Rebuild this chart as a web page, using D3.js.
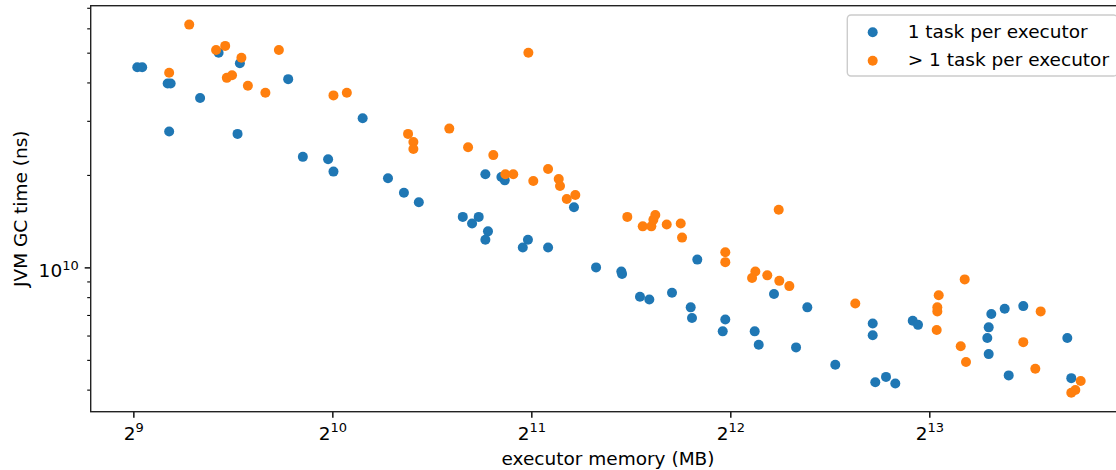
<!DOCTYPE html>
<html>
<head>
<meta charset="utf-8">
<script src="https://d3js.org/d3.v7.min.js"></script>
<style>
body { margin: 0; background: #fff; }
text { font-family: 'DejaVu Sans', sans-serif; fill: #000; }
</style>
</head>
<body>
<svg id="drawing_region"></svg>
<script>
// values: executor memory in MB, JVM GC time in units of 1e9 ns
const single_memory = [519, 528, 577, 583, 646, 580, 689, 742, 736, 878,
    924, 1009, 1028, 1138, 1243, 1314, 1384, 1745, 1845, 1867,
    1613, 1666, 1705, 1761, 1745, 2024, 1988, 2171, 2376, 2566,
    2802, 2809, 2990, 3089, 3343, 3651, 3568, 3584, 4025, 3989,
    4459, 4522, 4769, 5150, 5356, 5904, 6726, 6726, 6787, 7045,
    7277, 7732, 7876, 10167, 10652, 11365, 10075, 10026, 10075, 10802,
    13248, 13433];
const single_gc = [44.8, 44.8, 39.7, 39.7, 35.6, 27.7, 50.0, 46.2, 27.2, 41.0,
    22.9, 22.5, 20.5, 30.6, 19.5, 17.5, 16.3, 20.1, 19.7, 19.2,
    14.6, 13.9, 14.6, 13.1, 12.3, 12.3, 11.6, 11.6, 15.7, 10.0,
    9.69, 9.51, 8.02, 7.86, 8.27, 10.6, 7.41, 6.84, 6.77, 6.19,
    6.19, 5.60, 8.19, 5.49, 7.41, 4.82, 6.57, 6.01, 4.23, 4.40,
    4.19, 6.70, 6.50, 7.05, 7.33, 7.48, 6.38, 5.89, 5.22, 4.45,
    5.89, 4.36];

const multi_memory = [622, 580, 683, 705, 746, 709, 722, 763, 811, 850,
    1028, 1077, 2027, 1333, 1358, 1358, 1539, 1643, 1794, 1871,
    1923, 2062, 2171, 2253, 2263, 2317, 2387, 2861, 3019, 3111,
    3133, 3154, 3282, 3446, 3462, 4848, 4025, 4025, 4469, 4418,
    4659, 4858, 5031, 6330, 8465, 8424, 8424, 8406, 9267, 9139,
    9309, 12075, 11365, 11851, 13880, 13624, 13433];
const multi_gc = [61.7, 43.0, 51.0, 52.6, 48.1, 41.4, 42.2, 39.0, 37.0, 51.0,
    36.3, 37.0, 50.0, 27.2, 25.6, 24.3, 28.3, 24.6, 23.2, 20.1,
    20.1, 19.1, 20.9, 19.4, 18.4, 16.7, 17.2, 14.6, 13.6, 13.6,
    14.3, 14.8, 13.8, 13.9, 12.5, 15.4, 11.2, 10.4, 9.70, 9.23,
    9.42, 9.04, 8.69, 7.63, 8.11, 7.41, 7.19, 6.25, 9.14, 5.54,
    4.92, 7.19, 5.71, 4.68, 4.27, 3.99, 3.91];

const x_tick_exponents = [9, 10, 11, 12, 13];
const y_tick_exponents = [10];
const y_minor_ticks = [4e9, 5e9, 6e9, 7e9, 8e9, 9e9, 2e10, 3e10, 4e10, 5e10, 6e10, 7e10];
const series_labels = ['1 task per executor', '> 1 task per executor'];
const series_colors = ['#1f77b4', '#ff7f0e'];


class ScatterPlot{

    constructor(config, series){
        this.config = {
            parent: config.parent,
            width: config.width || 1116,
            height: config.height || 470,
            margin: config.margin || {top:5.7, left:90.7},
            inner_width: config.inner_width || 1034.6,
            inner_height: config.inner_height || 406,
            xlabel: config.xlabel || '',
            ylabel: config.ylabel || ''
        }
        this.series = series;
        this.init();
    }

    init(){
        let self = this;

        self.svg = d3.select(self.config.parent)
            .attr('width', self.config.width)
            .attr('height', self.config.height);

        self.chart = self.svg.append('g')
            .attr('transform', `translate(${self.config.margin.left}, ${self.config.margin.top})`);

        // log axes, limits read from the spines
        self.xscale = d3.scaleLog().base(2)
            .domain([441.3, 16214])
            .range([0, self.config.inner_width]);

        self.yscale = d3.scaleLog()
            .domain([3.39e9, 7.11e10])
            .range([self.config.inner_height, 0]);

        self.xaxis = d3.axisBottom(self.xscale)
            .tickValues(x_tick_exponents.map(e => 2 ** e))
            .tickSize(6)
            .tickFormat('');

        self.yaxis = d3.axisLeft(self.yscale)
            .tickValues(y_tick_exponents.map(e => 10 ** e))
            .tickSize(6)
            .tickFormat('');

        self.yaxis_minor = d3.axisLeft(self.yscale)
            .tickValues(y_minor_ticks)
            .tickSize(3.5)
            .tickFormat('');
    }

    render(){
        let self = this;
        const fs = 18.5;

        // points, first series underneath
        self.series.forEach((s, i) => {
            self.chart.append('g')
                .selectAll('circle')
                .data(d3.zip(s.x, s.y))
                .join('circle')
                .attr('cx', d => self.xscale(d[0]))
                .attr('cy', d => self.yscale(d[1] * 1e9))
                .attr('r', 5)
                .attr('fill', series_colors[i]);
        });

        const xg = self.chart.append('g')
            .attr('transform', `translate(0, ${self.config.inner_height})`)
            .call(self.xaxis);
        const yg = self.chart.append('g').call(self.yaxis);
        const yg2 = self.chart.append('g').call(self.yaxis_minor);

        [xg, yg, yg2].forEach(g => {
            g.select('.domain').remove();
            g.selectAll('.tick line').attr('stroke', '#000').attr('stroke-width', 1.4);
        });
        yg2.selectAll('.tick line').attr('stroke-width', 1.1);

        // tick labels as 2^n and 10^n
        xg.selectAll('.tick text').each(function(d){
            const t = d3.select(this)
                .attr('y', 28.8).attr('dy', null)
                .attr('text-anchor', 'middle')
                .style('font-size', fs + 'px');
            t.append('tspan').text('2');
            t.append('tspan').attr('dy', -8.2).style('font-size', '13px').text(Math.round(Math.log2(d)));
        });
        yg.selectAll('.tick text').each(function(d){
            const t = d3.select(this)
                .attr('x', -12).attr('y', 8.7).attr('dy', null)
                .attr('text-anchor', 'end')
                .style('font-size', fs + 'px');
            t.append('tspan').text('10');
            t.append('tspan').attr('dy', -6.8).style('font-size', '13px').text(Math.round(Math.log10(d)));
        });

        // spines
        self.chart.append('rect')
            .attr('width', self.config.inner_width)
            .attr('height', self.config.inner_height)
            .attr('fill', 'none')
            .attr('stroke', '#222')
            .attr('stroke-width', 1.4);

        self.svg.append('text')
            .style('font-size', fs + 'px')
            .attr('text-anchor', 'middle')
            .attr('x', 608)
            .attr('y', 465)
            .text(self.config.xlabel);

        self.svg.append('text')
            .style('font-size', fs + 'px')
            .attr('text-anchor', 'middle')
            .attr('transform', 'rotate(-90)')
            .attr('x', -208.7)
            .attr('y', 26.8)
            .text(self.config.ylabel);

        // legend, upper right
        const legend = self.svg.append('g');
        legend.append('rect')
            .attr('x', 847.3).attr('y', 15)
            .attr('width', 270).attr('height', 61)
            .attr('rx', 3.7)
            .attr('fill', '#fff').attr('fill-opacity', 0.8)
            .attr('stroke', '#ccc').attr('stroke-width', 1.4);

        series_labels.forEach((label, i) => {
            legend.append('circle')
                .attr('cx', 872.7).attr('cy', 32.3 + i * 28.4)
                .attr('r', 5)
                .attr('fill', series_colors[i]);
            legend.append('text')
                .style('font-size', fs + 'px')
                .attr('x', 907.7).attr('y', 37.5 + i * 28)
                .text(label);
        });
    }
}

let chart = new ScatterPlot({
    parent: '#drawing_region',
    xlabel: 'executor memory (MB)',
    ylabel: 'JVM GC time (ns)'
}, [
    {x: single_memory, y: single_gc},
    {x: multi_memory, y: multi_gc}
]);
chart.render();
</script>
</body>
</html>
